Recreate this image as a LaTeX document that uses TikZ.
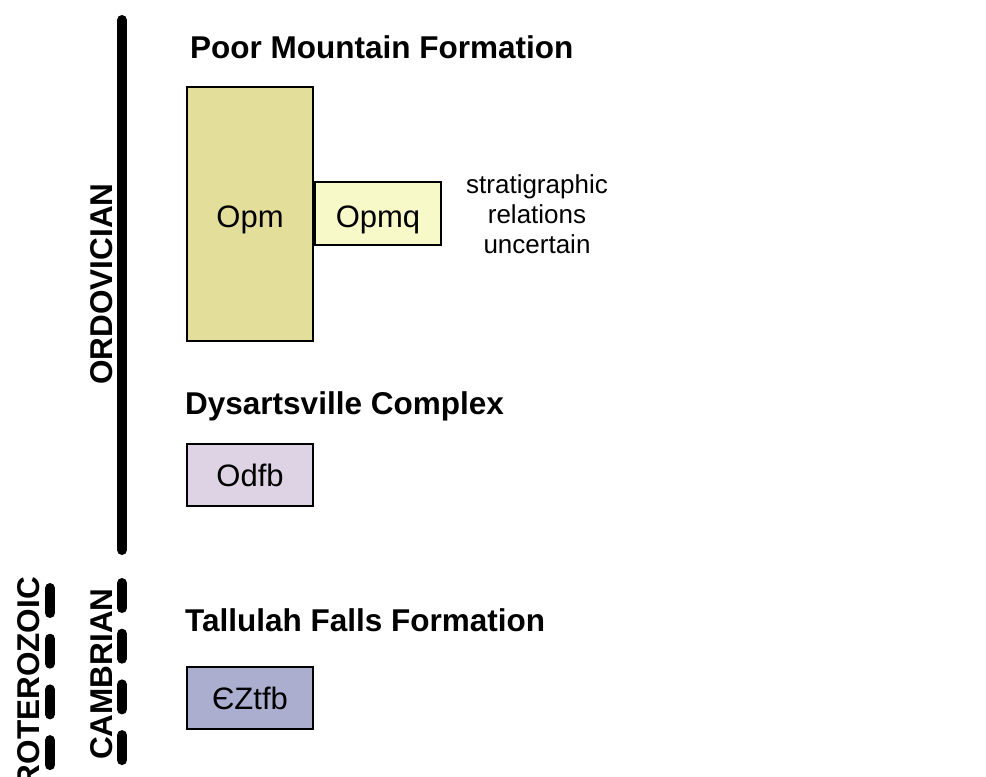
\documentclass[tikz,border=0pt]{standalone}
\usepackage{fontspec}
\setmainfont{Liberation Sans}
\definecolor{opmfill}{HTML}{E3DF9B}
\definecolor{opmqfill}{HTML}{F8F9C8}
\definecolor{odfbfill}{HTML}{DDD3E4}
\definecolor{tfbfill}{HTML}{ACAED0}
\tikzset{
  unitbox/.style={draw=black, line width=2pt, inner sep=0pt, minimum width=126pt,
    text height=22pt, text depth=0pt, font=\fontsize{31}{37}\selectfont},
  title/.style={anchor=base west, inner sep=0pt, font=\fontsize{31.5}{37}\selectfont\bfseries},
  period/.style={anchor=base, inner sep=0pt, rotate=90, font=\fontsize{31.5}{37}\selectfont\bfseries},
  note/.style={anchor=base, inner sep=0pt, font=\fontsize{26}{30}\selectfont},
  solidbar/.style={line width=10pt, line cap=round},
  dashbar/.style={line width=10pt, line cap=round, dash pattern=on 25pt off 25.7pt}
}
\begin{document}
\begin{tikzpicture}[x=1pt,y=-1pt]
\useasboundingbox (0,0) rectangle (986,777);
% time bars
\coordinate (ordtop) at (122,20);
\coordinate (ordbot) at (122,550);
\draw[solidbar] (ordtop) -- (ordbot);
\coordinate (camtop) at (122,583);
\coordinate (cambot) at (122,790);
\draw[dashbar] (camtop) -- (cambot);
\coordinate (prtop) at (50,588);
\coordinate (prbot) at (50,790);
\draw[dashbar] (prtop) -- (prbot);
% period labels
\node[period] (ordlab) at (112,284) {ORDOVICIAN};
\node[period] (camlab) at (112,674) {CAMBRIAN};
\node[period, anchor=base east] (prlab) at (39,577) {PROTEROZOIC};
% titles
\node[title] (t1) at (190,58) {Poor Mountain Formation};
\node[title] (t2) at (185,414) {Dysartsville Complex};
\node[title] (t3) at (185,631) {Tallulah Falls Formation};
% units
\node[unitbox, fill=opmfill, minimum height=254pt] (opm) at (250,214) {};
\node[unitbox, fill=opmqfill, minimum height=63pt] (opmq) at (378,213.5) {};
\node[unitbox, fill=odfbfill, minimum height=62pt] (odfb) at (250,475) {Odfb};
\node[unitbox, fill=tfbfill, minimum height=62pt] (tfb) at (250,698) {ЄZtfb};
\node[anchor=base, inner sep=0pt, font=\fontsize{31}{37}\selectfont] (opmt) at (250,227) {Opm};
\node[anchor=base, inner sep=0pt, font=\fontsize{31}{37}\selectfont] (opmqt) at (378,227) {Opmq};
% note
\node[note] (n1) at (537,193) {stratigraphic};
\node[note] (n2) at (537,223) {relations};
\node[note] (n3) at (537,253) {uncertain};
\end{tikzpicture}
\end{document}
